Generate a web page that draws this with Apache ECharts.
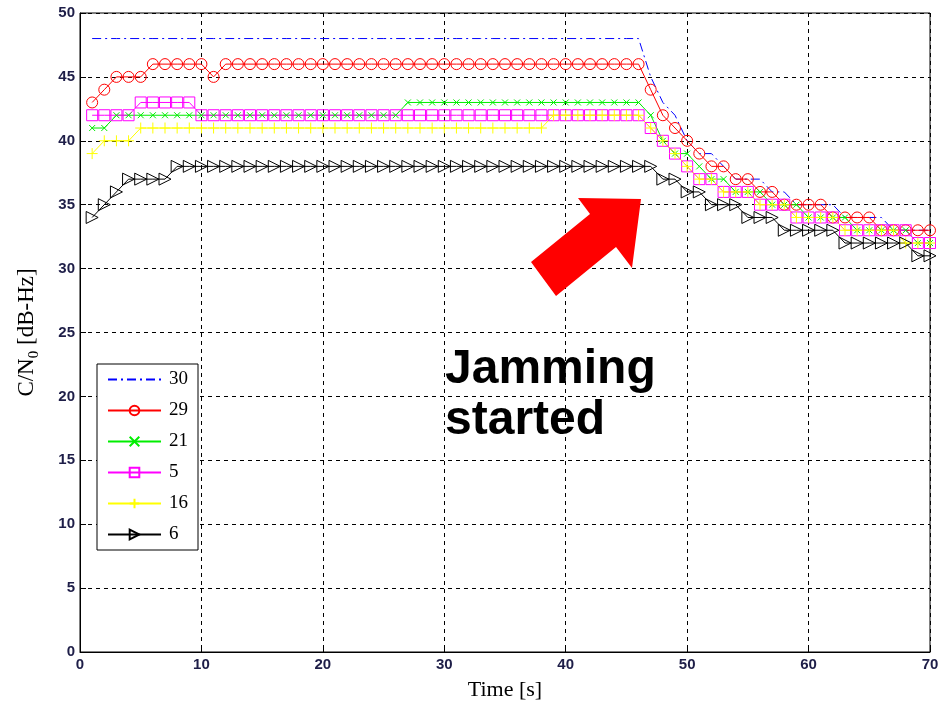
<!DOCTYPE html>
<html>
<head>
<meta charset="utf-8">
<script src="https://cdn.jsdelivr.net/npm/echarts@6/dist/echarts.min.js"></script>
<style>
  html, body { margin: 0; padding: 0; background: #ffffff; }
  #chart { width: 949px; height: 704px; }
</style>
</head>
<body>
<div id="chart"></div>
<script>
// time axis [s]
var time = [1, 2, 3, 4, 5, 6, 7, 8, 9, 10, 11, 12, 13, 14, 15, 16, 17, 18, 19, 20,
  21, 22, 23, 24, 25, 26, 27, 28, 29, 30, 31, 32, 33, 34, 35, 36, 37, 38, 39, 40,
  41, 42, 43, 44, 45, 46, 47, 48, 49, 50, 51, 52, 53, 54, 55, 56, 57, 58, 59, 60,
  61, 62, 63, 64, 65, 66, 67, 68, 69, 70];

// C/N0 per satellite
var prn30 = [48, 48, 48, 48, 48, 48, 48, 48, 48, 48, 48, 48, 48, 48, 48, 48, 48, 48, 48, 48,
  48, 48, 48, 48, 48, 48, 48, 48, 48, 48, 48, 48, 48, 48, 48, 48, 48, 48, 48, 48,
  48, 48, 48, 48, 48, 48, 45, 43, 42, 40, 39, 39, 38, 37, 37, 37, 36, 36, 35, 35,
  35, 35, 34, 34, 34, 34, 33, 33, 33, 33];
var prn29 = [43, 44, 45, 45, 45, 46, 46, 46, 46, 46, 45, 46, 46, 46, 46, 46, 46, 46, 46, 46,
  46, 46, 46, 46, 46, 46, 46, 46, 46, 46, 46, 46, 46, 46, 46, 46, 46, 46, 46, 46,
  46, 46, 46, 46, 46, 46, 44, 42, 41, 40, 39, 38, 38, 37, 37, 36, 36, 35, 35, 35,
  35, 34, 34, 34, 34, 33, 33, 33, 33, 33];
var prn21 = [41, 41, 42, 42, 42, 42, 42, 42, 42, 42, 42, 42, 42, 42, 42, 42, 42, 42, 42, 42,
  42, 42, 42, 42, 42, 42, 43, 43, 43, 43, 43, 43, 43, 43, 43, 43, 43, 43, 43, 43,
  43, 43, 43, 43, 43, 43, 42, 40, 39, 39, 38, 37, 37, 36, 36, 36, 35, 35, 35, 34,
  34, 34, 34, 33, 33, 33, 33, 33, 32, 32];
var prn5 = [42, 42, 42, 42, 43, 43, 43, 43, 43, 42, 42, 42, 42, 42, 42, 42, 42, 42, 42, 42,
  42, 42, 42, 42, 42, 42, 42, 42, 42, 42, 42, 42, 42, 42, 42, 42, 42, 42, 42, 42,
  42, 42, 42, 42, 42, 42, 41, 40, 39, 38, 37, 37, 36, 36, 36, 35, 35, 35, 34, 34,
  34, 34, 33, 33, 33, 33, 33, 33, 32, 32];
var prn16 = [39, 40, 40, 40, 41, 41, 41, 41, 41, 41, 41, 41, 41, 41, 41, 41, 41, 41, 41, 41,
  41, 41, 41, 41, 41, 41, 41, 41, 41, 41, 41, 41, 41, 41, 41, 41, 41, 41, 42, 42,
  42, 42, 42, 42, 42, 42, 41, 40, 39, 38, 37, 37, 36, 36, 36, 35, 35, 35, 34, 34,
  34, 34, 33, 33, 33, 33, 33, 32, 32, 32];
var prn6 = [34, 35, 36, 37, 37, 37, 37, 38, 38, 38, 38, 38, 38, 38, 38, 38, 38, 38, 38, 38,
  38, 38, 38, 38, 38, 38, 38, 38, 38, 38, 38, 38, 38, 38, 38, 38, 38, 38, 38, 38,
  38, 38, 38, 38, 38, 38, 38, 37, 37, 36, 36, 35, 35, 35, 34, 34, 34, 33, 33, 33,
  33, 33, 32, 32, 32, 32, 32, 32, 31, 31];

var xTicks = [0, 70, 10];
var yTicks = [0, 50, 5];

function pairs(vals) {
  return time.map(function (t, i) { return [t, vals[i]]; });
}

// hollow matlab-like markers
var symX = 'path://M0,0L10,10M10,0L0,10';
var symPlus = 'path://M5,0L5,10M0,5L10,5';
var symTri = 'path://M0,0L10,5L0,10Z';

function mkSeries(name, vals, color, symbol, size, dash) {
  return {
    name: name,
    type: 'line',
    data: pairs(vals),
    symbol: symbol,
    symbolSize: size,
    showAllSymbol: true,
    lineStyle: { color: color, width: 1, type: dash || 'solid' },
    itemStyle: { color: 'rgba(0,0,0,0)', borderColor: color, borderWidth: 1 },
    emphasis: { disabled: true }
  };
}

var chart = echarts.init(document.getElementById('chart'));
var option = {
  animation: false,
  backgroundColor: '#ffffff',
  grid: {
    left: 80, right: 19, top: 13, bottom: 52,
    outerBoundsMode: 'none',
    show: true, borderColor: '#000', borderWidth: 1
  },
  xAxis: {
    type: 'value',
    min: xTicks[0], max: xTicks[1], interval: xTicks[2],
    name: 'Time [s]',
    nameLocation: 'middle',
    nameGap: 27,
    nameTextStyle: { fontFamily: 'Liberation Serif', fontSize: 22, color: '#000' },
    axisLine: { lineStyle: { color: '#000' } },
    axisTick: { inside: true, length: 6, lineStyle: { color: '#000' } },
    axisLabel: { fontFamily: 'Liberation Sans', fontWeight: 'bold', fontSize: 15, color: '#1e1e48', margin: 5 },
    splitLine: { show: true, lineStyle: { color: '#000', type: [4, 4], width: 1 } }
  },
  yAxis: {
    type: 'value',
    min: yTicks[0], max: yTicks[1], interval: yTicks[2],
    name: '{a|C/N}{b|0}{a| [dB-Hz]}',
    nameLocation: 'middle',
    nameGap: 38,
    nameTextStyle: {
      rich: {
        a: { fontFamily: 'Liberation Serif', fontSize: 23, color: '#000', lineHeight: 30 },
        b: { fontFamily: 'Liberation Serif', fontSize: 15, color: '#000', lineHeight: 15, verticalAlign: 'bottom' }
      }
    },
    axisLine: { lineStyle: { color: '#000' } },
    axisTick: { inside: true, length: 6, lineStyle: { color: '#000' } },
    axisLabel: { fontFamily: 'Liberation Sans', fontWeight: 'bold', fontSize: 15, color: '#1e1e48', margin: 5 },
    splitLine: { show: true, lineStyle: { color: '#000', type: [4, 4], width: 1 } }
  },
  legend: {
    orient: 'vertical',
    left: 97,
    top: 364,
    padding: [6, 10, 6, 10],
    itemWidth: 53,
    itemHeight: 12,
    itemGap: 12,
    borderColor: '#000',
    borderWidth: 1,
    backgroundColor: '#fff',
    selectedMode: false,
    textStyle: { fontFamily: 'Liberation Serif', fontSize: 19, color: '#000', padding: [0, 0, 0, 3] },
    data: [
      { name: '30', itemStyle: { opacity: 0 } },
      '29', '21', '5', '16', '6'
    ]
  },
  series: [
    mkSeries('30', prn30, '#0000ff', 'none', 0, [9, 4, 2, 4]),
    mkSeries('29', prn29, '#ff0000', 'circle', 11),
    mkSeries('21', prn21, '#00ee00', symX, 6),
    mkSeries('5', prn5, '#ff00ff', 'rect', 11),
    mkSeries('16', prn16, '#ffff00', symPlus, 11),
    mkSeries('6', prn6, '#000000', symTri, 12)
  ],
  graphic: [
    {
      type: 'polygon',
      shape: { points: [[641, 199], [632, 268], [616, 247], [556, 296], [531, 262], [590, 214], [578, 198]] },
      style: { fill: '#ff0000' },
      z: 100
    },
    {
      type: 'text',
      left: 445,
      top: 344,
      style: {
        text: 'Jamming\nstarted',
        font: 'bold 48px "Liberation Sans", Arial, sans-serif',
        lineHeight: 51,
        fill: '#000'
      },
      z: 100
    }
  ]
};
chart.setOption(option);
</script>
</body>
</html>
